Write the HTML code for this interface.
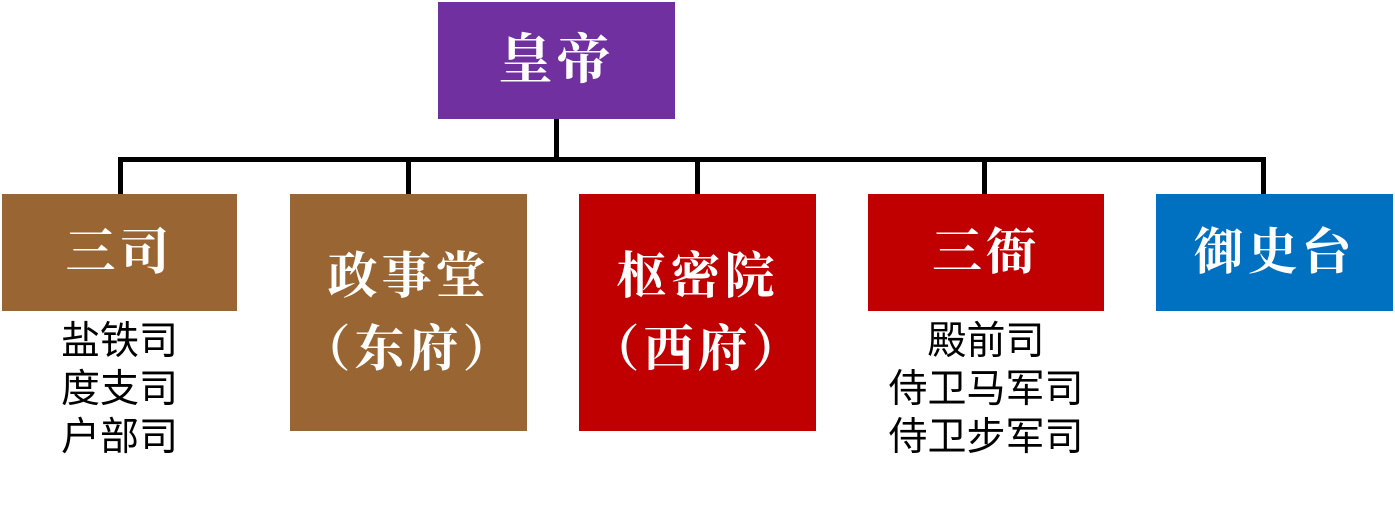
<!DOCTYPE html>
<html><head><meta charset="utf-8"><style>
body{margin:0;width:1395px;height:508px;background:#fff;position:relative;overflow:hidden}
.b{position:absolute;color:#fff;font-family:"Liberation Serif","Noto Serif CJK SC",serif;font-weight:bold;font-size:50px;display:flex;flex-direction:column;align-items:center;justify-content:center;text-align:center;line-height:1.45;letter-spacing:4px}
.l{position:absolute;background:#000}
.t{position:absolute;font-family:"Liberation Sans","Noto Sans CJK SC",sans-serif;font-size:39px;line-height:48px;color:#000;text-align:center}
</style></head><body>
<div class="b" style="left:438px;top:2px;width:237px;height:117px;background:#7030A0;font-size:54px">皇帝</div>
<div class="l" style="left:554px;top:119px;width:5px;height:42px"></div>
<div class="l" style="left:118px;top:157px;width:1148px;height:5px"></div>
<div class="l" style="left:118px;top:157px;width:5px;height:37px"></div>
<div class="l" style="left:406px;top:157px;width:5px;height:37px"></div>
<div class="l" style="left:695px;top:157px;width:5px;height:37px"></div>
<div class="l" style="left:982px;top:157px;width:5px;height:37px"></div>
<div class="l" style="left:1261px;top:157px;width:5px;height:37px"></div>
<div class="b" style="left:2px;top:194px;width:235px;height:117px;background:#996633">三司</div>
<div class="b" style="left:290px;top:194px;width:237px;height:237px;background:#996633"><div>政事堂</div><div>（东府）</div></div>
<div class="b" style="left:579px;top:194px;width:237px;height:237px;background:#C00000"><div>枢密院</div><div>（西府）</div></div>
<div class="b" style="left:868px;top:194px;width:236px;height:117px;background:#C00000">三衙</div>
<div class="b" style="left:1156px;top:194px;width:237px;height:117px;background:#0070C0">御史台</div>
<div class="t" style="left:2px;top:318px;width:235px">盐铁司<br>度支司<br>户部司</div>
<div class="t" style="left:868px;top:318px;width:236px">殿前司<br>侍卫马军司<br>侍卫步军司</div>
</body></html>
